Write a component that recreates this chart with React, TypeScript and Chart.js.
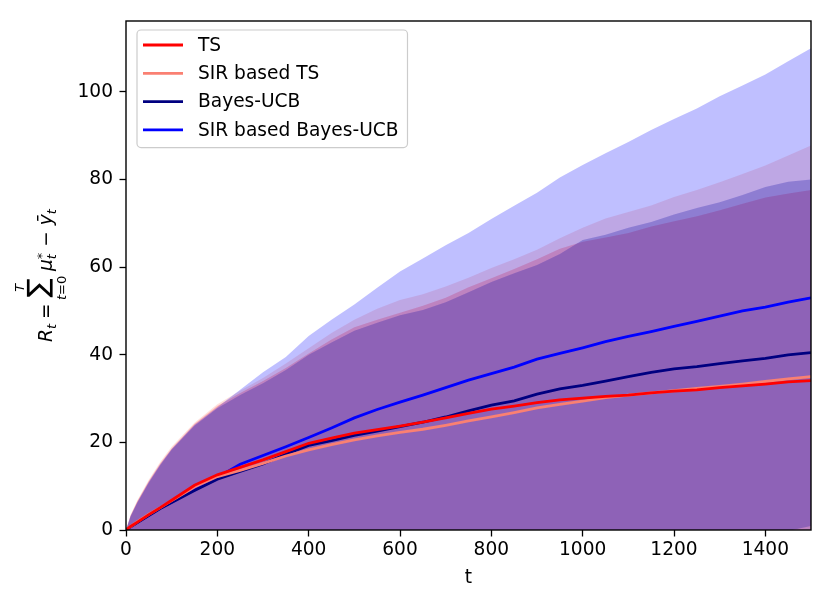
import { useEffect, useRef } from "react";
import { Chart, registerables, ChartOptions, ChartData, Plugin } from "chart.js";

Chart.register(...registerables);

const FONT = "'DejaVu Sans'";
const FS = 18.6;
Chart.defaults.font.family = FONT;
Chart.defaults.font.size = FS;
Chart.defaults.color = "#000";

// time steps (t)
const steps = [0, 10, 25, 50, 75, 100, 150, 200, 250, 300, 350, 400, 450, 500, 550, 600, 650, 700, 750, 800, 850, 900, 950, 1000, 1050, 1100, 1150, 1200, 1250, 1300, 1350, 1400, 1450, 1500];

// mean regret curves
const tsMean = [0, 0.8, 1.8, 3.5, 5.1, 6.8, 10.2, 12.6, 14.3, 16.0, 17.9, 19.8, 21.0, 22.1, 22.9, 23.7, 24.6, 25.6, 26.6, 27.6, 28.3, 29.1, 29.7, 30.1, 30.5, 30.8, 31.3, 31.7, 32.0, 32.5, 32.9, 33.3, 33.8, 34.1];
const sirTsMean = [0, 0.8, 1.9, 3.6, 5.1, 6.7, 9.8, 12.2, 13.6, 15.2, 16.9, 18.3, 19.5, 20.6, 21.5, 22.3, 23.0, 23.9, 24.9, 25.8, 26.8, 27.9, 28.7, 29.4, 30.2, 30.8, 31.3, 31.8, 32.3, 32.8, 33.3, 33.9, 34.5, 35.0];
const ucbMean = [0, 0.7, 1.7, 3.3, 4.9, 6.3, 9.0, 11.6, 13.4, 15.1, 17.3, 19.3, 20.4, 21.6, 22.6, 23.6, 24.6, 25.8, 27.2, 28.5, 29.5, 31.0, 32.2, 33.0, 34.0, 35.0, 36.0, 36.8, 37.3, 38.0, 38.6, 39.2, 40.0, 40.5];
const sirUcbMean = [0, 0.7, 1.8, 3.4, 5.0, 6.4, 9.3, 12.0, 15.0, 17.0, 19.0, 21.1, 23.3, 25.6, 27.5, 29.2, 30.8, 32.5, 34.2, 35.7, 37.2, 39.0, 40.3, 41.6, 43.0, 44.2, 45.3, 46.5, 47.6, 48.8, 50.0, 50.9, 52.0, 53.0];

// upper edges of the shaded bands
const tsUpper = [0, 3.3, 6.6, 11.2, 15.2, 18.6, 24.2, 28.3, 31.3, 34.0, 37.0, 40.3, 43.5, 46.3, 48.0, 49.6, 51.2, 53.0, 55.4, 57.5, 59.6, 61.8, 64.2, 65.8, 66.8, 67.8, 69.3, 70.5, 71.6, 73.0, 74.5, 75.9, 76.8, 77.6];
const sirTsUpper = [0, 3.4, 6.8, 11.5, 15.5, 19.0, 24.5, 28.7, 31.8, 34.7, 38.0, 41.5, 45.0, 48.0, 50.5, 52.5, 53.8, 55.6, 57.6, 59.8, 61.8, 64.0, 66.6, 69.0, 71.1, 72.6, 74.1, 76.0, 77.6, 79.4, 81.3, 83.2, 85.5, 87.8];
const ucbUpper = [0, 3.1, 6.3, 10.8, 14.8, 18.3, 23.8, 27.8, 30.8, 33.5, 36.5, 40.0, 42.8, 45.5, 47.3, 49.0, 50.2, 52.0, 54.3, 56.6, 58.6, 60.5, 63.0, 66.2, 67.4, 69.0, 70.3, 72.0, 73.5, 74.8, 76.5, 78.3, 79.5, 80.0];
const sirUcbUpper = [0, 3.2, 6.4, 11.0, 15.0, 18.5, 24.0, 28.0, 32.0, 36.0, 39.5, 44.3, 48.0, 51.5, 55.3, 59.0, 62.0, 65.0, 67.8, 71.0, 74.0, 77.0, 80.5, 83.3, 86.0, 88.6, 91.3, 93.8, 96.2, 99.0, 101.5, 104.0, 107.0, 110.0];

// lower edges of the shaded bands (mostly below the axis)
const tsLower = [0, -1.5, -3.0, -4.0, -5.0, -5.0, -4.0, -3.5, -3.0, -2.5, -2.0, -1.5, -2.0, -2.5, -2.5, -2.5, -2.0, -2.0, -2.5, -2.5, -3.0, -3.5, -4.5, -5.5, -6.0, -6.5, -6.5, -7.0, -7.5, -8.0, -8.5, -9.0, -9.0, -9.5];
const sirTsLower = [0, -1.8, -3.2, -4.3, -5.3, -5.6, -5.0, -4.5, -4.5, -4.3, -4.2, -5.0, -6.0, -7.0, -7.5, -8.0, -8.0, -8.0, -8.0, -8.5, -8.5, -8.0, -9.5, -10.5, -11.0, -11.0, -11.5, -12.5, -13.0, -14.0, -15.0, -15.5, -16.5, -17.8];
const ucbLower = [0, -1.5, -3.0, -4.0, -5.0, -5.5, -5.5, -4.5, -4.0, -3.5, -2.0, -1.5, -2.0, -2.5, -2.0, -1.8, -1.5, -1.5, -1.5, -1.5, -1.5, -1.5, -1.5, -1.5, -1.5, -1.5, -1.5, -1.5, -1.5, -1.2, -1.0, -0.8, -0.2, 0.9];
const sirUcbLower = [0, -1.5, -2.8, -3.8, -4.8, -5.3, -5.0, -4.0, -2.0, -2.0, -1.5, -2.0, -1.5, -1.5, -1.0, -1.0, -1.0, -1.0, -1.0, -1.0, -1.0, -1.5, -1.5, -1.5, -1.5, -1.5, -2.0, -2.0, -2.5, -2.5, -2.5, -2.5, -3.0, -4.0];

const seriesNames = ["TS", "SIR based TS", "Bayes-UCB", "SIR based Bayes-UCB"];
const seriesColors = ["#ff0000", "#fa8072", "#000080", "#0000ff"];
const bandColors = ["rgba(255,0,0,0.25)", "rgba(250,128,114,0.25)", "rgba(0,0,128,0.25)", "rgba(0,0,255,0.25)"];
const means = [tsMean, sirTsMean, ucbMean, sirUcbMean];
const uppers = [tsUpper, sirTsUpper, ucbUpper, sirUcbUpper];
const lowers = [tsLower, sirTsLower, ucbLower, sirUcbLower];

const pts = (ys: number[]) => steps.map((t, i) => ({ x: t, y: ys[i] }));

// axes frame on all four sides
const framePlugin: Plugin<"line"> = {
  id: "frame",
  afterDatasetsDraw(chart) {
    const { ctx, chartArea: a } = chart;
    ctx.save();
    ctx.strokeStyle = "#000";
    ctx.lineWidth = 1.4;
    ctx.strokeRect(a.left, a.top, a.right - a.left, a.bottom - a.top);
    ctx.restore();
  },
};

// matplotlib-like legend box inside the plot
const legendPlugin: Plugin<"line"> = {
  id: "boxLegend",
  afterDraw(chart) {
    const { ctx, chartArea: a } = chart;
    const x0 = a.left + 11;
    const y0 = a.top + 9;
    const rowH = 28.3;
    ctx.save();
    ctx.font = `${FS}px ${FONT}`;
    const textW = Math.max(...seriesNames.map((n) => ctx.measureText(n).width));
    const w = 61 + textW + 9;
    const h = 15 + rowH * (seriesNames.length - 1) + 17.7;
    ctx.beginPath();
    ctx.roundRect(x0, y0, w, h, 4);
    ctx.fillStyle = "rgba(255,255,255,0.8)";
    ctx.fill();
    ctx.strokeStyle = "#cccccc";
    ctx.lineWidth = 1.2;
    ctx.stroke();
    seriesNames.forEach((n, i) => {
      const cy = y0 + 15 + i * rowH;
      ctx.beginPath();
      ctx.moveTo(x0 + 6, cy);
      ctx.lineTo(x0 + 46, cy);
      ctx.strokeStyle = seriesColors[i];
      ctx.lineWidth = 2.8;
      ctx.stroke();
      ctx.fillStyle = "#000";
      ctx.textBaseline = "middle";
      ctx.textAlign = "left";
      ctx.fillText(n, x0 + 61, cy + 1);
    });
    ctx.restore();
  },
};

// rotated math label R_t = sum_{t=0}^T mu*_t - ybar_t
const yTitlePlugin: Plugin<"line"> = {
  id: "yMathTitle",
  afterDraw(chart) {
    const { ctx, chartArea: a } = chart;
    const sm = FS * 0.7;
    const main = `${FS}px ${FONT}`;
    const mainI = `italic ${FS}px ${FONT}`;
    const small = `${sm}px ${FONT}`;
    const smallI = `italic ${sm}px ${FONT}`;
    const items: { text: string; font: string; u: number; v: number }[] = [];
    let u = 0;
    ctx.save();
    const width = (t: string, f: string) => {
      ctx.font = f;
      return ctx.measureText(t).width;
    };
    const put = (t: string, f: string, v: number, adv = true) => {
      const w = width(t, f);
      items.push({ text: t, font: f, u, v });
      if (adv) u += w;
      return w;
    };
    put("R", mainI, 0);
    put("t", smallI, 4);
    u += 5;
    put("=", main, 0);
    u += 6;
    // big sum sized to span ~26px, sitting on the baseline
    ctx.font = `100px ${FONT}`;
    const m = ctx.measureText("\u2211");
    const h100 = m.actualBoundingBoxAscent + m.actualBoundingBoxDescent;
    const bigSize = (26 / h100) * 100;
    const big = `${bigSize}px ${FONT}`;
    const k = bigSize / 100;
    const sumBase = -m.actualBoundingBoxDescent * k + 1;
    const sumTop = sumBase - m.actualBoundingBoxAscent * k;
    const sumBot = sumBase + m.actualBoundingBoxDescent * k;
    const sw = width("\u2211", big);
    const su = u;
    items.push({ text: "\u2211", font: big, u: su, v: sumBase });
    const tw = width("T", smallI);
    items.push({ text: "T", font: smallI, u: su + (sw - tw) / 2, v: sumTop - 3 });
    const w1 = width("t", smallI);
    const w2 = width("=0", small);
    const lu = su + (sw - w1 - w2) / 2;
    const limBase = sumBot + 3 + sm * 0.73;
    items.push({ text: "t", font: smallI, u: lu, v: limBase });
    items.push({ text: "=0", font: small, u: lu + w1, v: limBase });
    u = su + Math.max(sw, w1 + w2) + 2;
    put("\u03bc", mainI, 0);
    const ws = put("*", small, -6, false);
    const wt = put("t", smallI, 4, false);
    u += Math.max(ws, wt);
    u += 6;
    put("\u2212", main, 0);
    u += 6;
    put("\u0233", mainI, 0);
    put("t", smallI, 4);
    const total = u;
    const cy = (a.top + a.bottom) / 2;
    ctx.translate(52, cy);
    ctx.rotate(-Math.PI / 2);
    ctx.fillStyle = "#000";
    ctx.textBaseline = "alphabetic";
    ctx.textAlign = "left";
    items.forEach((it) => {
      ctx.font = it.font;
      ctx.fillText(it.text, it.u - total / 2, it.v);
    });
    ctx.restore();
  },
};

export default function App() {
  const ref = useRef<HTMLCanvasElement | null>(null);

  useEffect(() => {
    if (!ref.current) return;

    const lineSets = seriesNames.map((name, i) => ({
      label: name,
      data: pts(means[i]),
      borderColor: seriesColors[i],
      borderWidth: 2.8,
      pointRadius: 0,
      fill: false,
      tension: 0,
    }));

    // bands: last in list gets filled first, so put red last
    const bandSets: any[] = [];
    [3, 2, 1, 0].forEach((i) => {
      bandSets.push({
        label: `${seriesNames[i]} upper`,
        data: pts(uppers[i]),
        borderColor: "rgba(0,0,0,0)",
        borderWidth: 0,
        backgroundColor: bandColors[i],
        pointRadius: 0,
        fill: "+1",
      });
      bandSets.push({
        label: `${seriesNames[i]} lower`,
        data: pts(lowers[i]),
        borderColor: "rgba(0,0,0,0)",
        borderWidth: 0,
        pointRadius: 0,
        fill: false,
      });
    });

    const data: ChartData<"line", { x: number; y: number }[]> = {
      datasets: [...lineSets, ...bandSets],
    };

    const tickGrid = {
      display: true,
      drawOnChartArea: false,
      drawTicks: true,
      tickLength: 6.5,
      tickColor: "#000",
      tickWidth: 1.3,
    };

    const options: ChartOptions<"line"> = {
      responsive: false,
      animation: false,
      layout: { padding: { top: 21, right: 20, left: 0, bottom: 0 } },
      plugins: {
        legend: { display: false },
        tooltip: { enabled: false },
        filler: { drawTime: "beforeDatasetsDraw" },
      },
      scales: {
        x: {
          type: "linear",
          min: 0,
          max: 1500,
          afterFit: (s) => {
            s.height = 72;
          },
          ticks: {
            stepSize: 200,
            includeBounds: false,
            color: "#000",
            padding: 3,
            maxRotation: 0,
            autoSkip: false,
            callback: (v) => String(v),
          },
          grid: tickGrid,
          border: { display: false },
          title: { display: true, text: "t", color: "#000", font: { size: FS }, padding: { top: 0, bottom: 12.8 } },
        },
        y: {
          type: "linear",
          min: 0,
          max: 116.2,
          afterFit: (s) => {
            s.width = 126;
          },
          ticks: { stepSize: 20, includeBounds: false, color: "#000", padding: 6.5, callback: (v) => String(v) },
          grid: tickGrid,
          border: { display: false },
        },
      },
    };

    const chart = new Chart(ref.current, {
      type: "line",
      data,
      options,
      plugins: [framePlugin, yTitlePlugin, legendPlugin],
    });
    return () => chart.destroy();
  }, []);

  return (
    <div style={{ position: "absolute", left: 0, top: 0, width: 831, height: 602, background: "#fff" }}>
      <canvas ref={ref} width={831} height={602} />
    </div>
  );
}
